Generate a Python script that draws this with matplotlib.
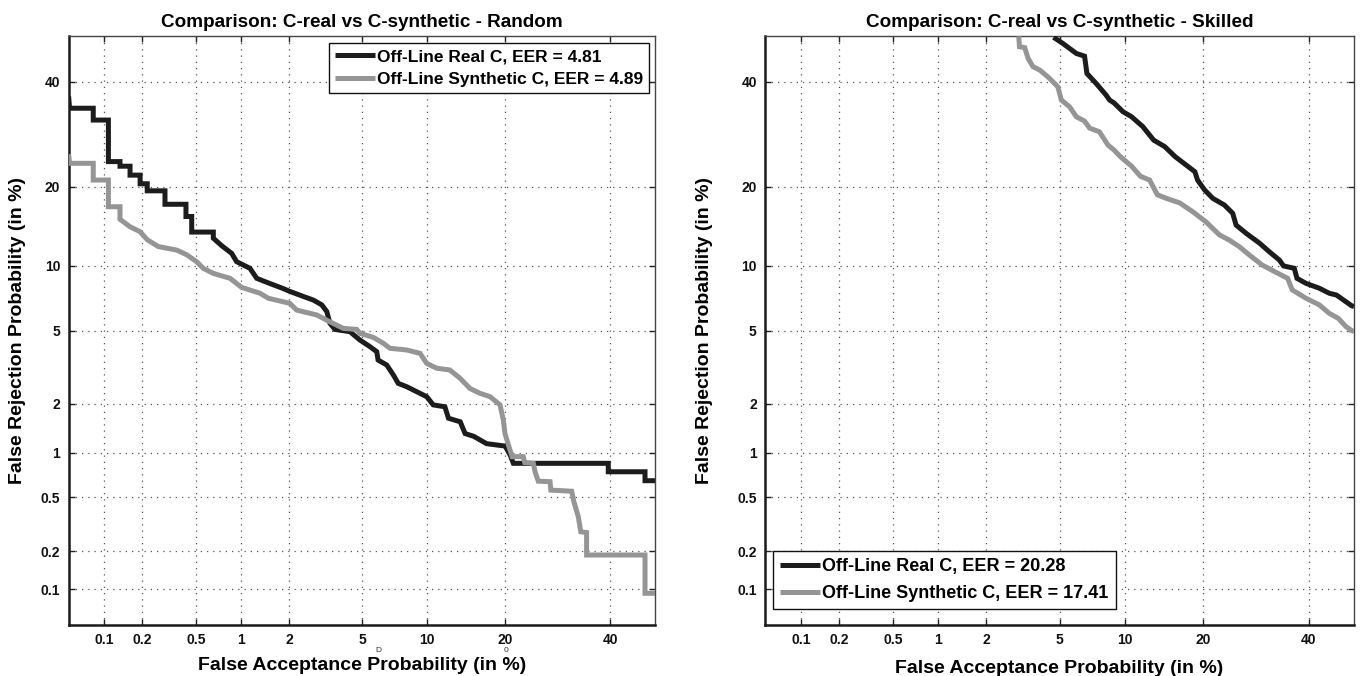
import math
import numpy as np
import matplotlib
matplotlib.use("Agg")
import matplotlib.pyplot as plt
from matplotlib import font_manager
from matplotlib.lines import Line2D

# ---------------- data (values in %) ----------------
rand_real_fa = [0.05, 0.051, 0.081, 0.081, 0.108, 0.108, 0.134, 0.134, 0.161, 0.161, 0.193, 0.193,
                0.219, 0.219, 0.298, 0.298, 0.424, 0.424, 0.466, 0.466, 0.659, 0.659, 0.751, 0.875,
                0.944, 1.15, 1.27, 1.53, 1.83, 2.02, 2.42, 2.76, 3.07, 3.27, 3.40, 3.62, 4.34, 4.88,
                5.48, 5.91, 6.0, 6.6, 7.09, 7.47, 8.16, 9.04, 9.99, 10.65, 11.9, 12.3, 13.7, 14.3,
                15.4, 17.2, 20.0, 20.8, 21.3, 39.6, 39.6, 47.7, 47.7, 50.0]
rand_real_fr = [36.9, 34.4, 34.4, 32.0, 32.0, 24.2, 24.2, 23.4, 23.4, 21.9, 21.9, 20.5,
                20.5, 19.4, 19.4, 17.4, 17.4, 15.7, 15.7, 13.7, 13.7, 12.96, 12.1, 11.26,
                10.39, 9.74, 8.81, 8.36, 7.95, 7.7, 7.30, 7.02, 6.67, 6.2, 5.44, 5.07, 4.94, 4.48,
                4.14, 3.90, 3.52, 3.31, 2.92, 2.62, 2.51, 2.35, 2.20, 1.97, 1.92, 1.64, 1.56, 1.32,
                1.27, 1.14, 1.10, 0.96, 0.85, 0.85, 0.747, 0.747, 0.65, 0.65]

rand_syn_fa = [0.05, 0.051, 0.081, 0.081, 0.108, 0.108, 0.134, 0.134, 0.161, 0.193, 0.219, 0.266,
               0.364, 0.43, 0.505, 0.562, 0.659, 0.854, 1.017, 1.331, 1.50, 2.02, 2.215, 2.88,
               3.40, 4.01, 4.70, 4.88, 5.69, 6.36, 6.84, 8.16, 9.35, 9.99, 11.0, 12.45, 13.67,
               14.94, 16.28, 17.7, 19.19, 19.7, 19.96, 20.5, 21.1, 22.95, 23.2, 24.7, 25.0, 25.58,
               27.74, 27.9, 31.96, 32.4, 33.29, 33.8, 35.0, 35.0, 47.7, 47.7, 50.0]
rand_syn_fr = [25.5, 23.9, 23.9, 21.1, 21.1, 17.05, 17.05, 15.33, 14.36, 13.74, 12.78, 12.0,
               11.61, 11.1, 10.39, 9.74, 9.26, 8.81, 8.03, 7.55, 7.16, 6.78, 6.30, 5.97,
               5.53, 5.13, 5.07, 4.85, 4.62, 4.31, 4.06, 3.98, 3.82, 3.38, 3.18, 3.11, 2.80,
               2.45, 2.30, 2.20, 1.97, 1.60, 1.32, 1.12, 0.94, 0.94, 0.86, 0.85, 0.747, 0.645,
               0.64, 0.56, 0.55, 0.464, 0.363, 0.281, 0.277, 0.187, 0.187, 0.0925, 0.0925]

skill_real_fa = [4.66, 5.2, 6.04, 6.61, 6.78, 7.49, 8.3, 8.6, 9.0, 9.83, 10.7, 11.9, 13.15, 14.5,
                 15.9, 17.1, 18.7, 19.1, 20.2, 21.5, 23.45, 24.9, 25.5, 27.33, 29.85, 31.81,
                 33.83, 34.7, 36.94, 37.5, 39.43, 42.31, 44.5, 46.1, 48.2, 49.5, 50.0]
skill_real_fr = [49.8, 48.4, 46.2, 45.6, 41.8, 39.6, 37.15, 36.1, 35.5, 33.7, 32.66, 30.7, 28.1, 26.9,
                 25.05, 23.89, 22.46, 21.1, 19.52, 18.27, 17.29, 16.13, 14.58, 13.55, 12.4, 11.43,
                 10.56, 9.97, 9.74, 8.81, 8.37, 7.96, 7.55, 7.41, 6.9, 6.6, 6.55]

skill_syn_fa = [3.05, 3.08, 3.29, 3.43, 3.64, 3.97, 4.45, 4.90, 5.10, 5.6, 6.04, 6.61, 6.98, 7.74,
                8.46, 9.0, 9.6, 10.7, 11.65, 12.67, 13.6, 14.7, 16.5, 18.38, 20.4, 22.6, 24.3,
                26.1, 27.9, 30.4, 32.9, 35.54, 36.5, 39.43, 42.31, 44.5, 46.5, 48.2, 49.5, 50.0]
skill_syn_fr = [50.0, 47.7, 47.5, 45.1, 43.3, 42.5, 40.7, 38.9, 36.1, 34.7, 32.66, 31.8, 30.4, 29.7,
                27.18, 26.26, 25.05, 23.4, 21.7, 21.1, 18.8, 18.27, 17.6, 16.35, 15.0, 13.36, 12.74,
                11.98, 11.1, 10.06, 9.42, 8.81, 7.82, 7.16, 6.67, 6.08, 5.75, 5.24, 5.0, 4.95]

tick_vals = [0.1, 0.2, 0.5, 1, 2, 5, 10, 20, 40]
tick_labels = ['0.1', '0.2', '0.5', '1', '2', '5', '10', '20', '40']
axis_lim = (0.05, 50)

titles = ['Comparison: C-real vs C-synthetic - Random', 'Comparison: C-real vs C-synthetic - Skilled']
legend_random = ['Off-Line Real C, EER = 4.81', 'Off-Line Synthetic C, EER = 4.89']
legend_skilled = ['Off-Line Real C, EER = 20.28', 'Off-Line Synthetic C, EER = 17.41']
xlabel = 'False Acceptance Probability (in %)'
ylabel = 'False Rejection Probability (in %)'

# ---------------- probit scale helpers ----------------
_a = [-3.969683028665376e+01, 2.209460984245205e+02, -2.759285104469687e+02,
      1.383577518672690e+02, -3.066479806614716e+01, 2.506628277459239e+00]
_b = [-5.447609879822406e+01, 1.615858368580409e+02, -1.556989798598866e+02,
      6.680131188771972e+01, -1.328068155288572e+01]
_c = [-7.784894002430293e-03, -3.223964580411365e-01, -2.400758277161838e+00,
      -2.549732539343734e+00, 4.374664141464968e+00, 2.938163982698783e+00]
_d = [7.784695709041462e-03, 3.224671290700398e-01, 2.445134137142996e+00,
      3.754408661907416e+00]


def _ppf_scalar(p):
    p = min(max(p, 1e-12), 1 - 1e-12)
    plow = 0.02425
    if p < plow:
        q = math.sqrt(-2 * math.log(p))
        return (((((_c[0]*q + _c[1])*q + _c[2])*q + _c[3])*q + _c[4])*q + _c[5]) / \
               ((((_d[0]*q + _d[1])*q + _d[2])*q + _d[3])*q + 1)
    if p > 1 - plow:
        q = math.sqrt(-2 * math.log(1 - p))
        return -(((((_c[0]*q + _c[1])*q + _c[2])*q + _c[3])*q + _c[4])*q + _c[5]) / \
               ((((_d[0]*q + _d[1])*q + _d[2])*q + _d[3])*q + 1)
    q = p - 0.5
    r = q * q
    return (((((_a[0]*r + _a[1])*r + _a[2])*r + _a[3])*r + _a[4])*r + _a[5]) * q / \
           (((((_b[0]*r + _b[1])*r + _b[2])*r + _b[3])*r + _b[4])*r + 1)


def probit_fwd(pct):
    arr = np.asarray(pct, dtype=float)
    flat = np.array([_ppf_scalar(v / 100.0) for v in arr.ravel()])
    return flat.reshape(arr.shape)


def probit_inv(z):
    arr = np.asarray(z, dtype=float)
    flat = np.array([50.0 * (1.0 + math.erf(v / math.sqrt(2.0))) for v in arr.ravel()])
    return flat.reshape(arr.shape)


# ---------------- fonts ----------------
avail = {f.name for f in font_manager.fontManager.ttflist}
fam = ['Liberation Sans Narrow'] if 'Liberation Sans Narrow' in avail else ['Liberation Sans']
plt.rcParams['font.family'] = fam + ['DejaVu Sans']
plt.rcParams['font.weight'] = 'bold'

W, H = 1363, 676
fig = plt.figure(figsize=(W / 100, H / 100), dpi=100)

black = '#1c1c1c'
grey = '#959595'
lw = 3.6


def setup(ax):
    ax.set_xscale('function', functions=(probit_fwd, probit_inv))
    ax.set_yscale('function', functions=(probit_fwd, probit_inv))
    ax.set_xlim(*axis_lim)
    ax.set_ylim(*axis_lim)
    ax.set_xticks(tick_vals)
    ax.set_xticklabels(tick_labels)
    ax.set_yticks(tick_vals)
    ax.set_yticklabels(tick_labels)
    ax.minorticks_off()
    ax.tick_params(direction='in', length=4, width=1, top=True, right=True,
                   labelsize=10, pad=6, colors='#222222', labelcolor='#111111')
    for lab in ax.get_xticklabels() + ax.get_yticklabels():
        lab.set_fontweight('bold')
    ax.grid(True, linestyle=(0, (1, 4)), linewidth=0.9, color='#555555')
    for s in ['left', 'bottom']:
        ax.spines[s].set_linewidth(1.8)
        ax.spines[s].set_color('#1a1a1a')
    for s in ['top', 'right']:
        ax.spines[s].set_linewidth(1.0)
        ax.spines[s].set_color('#444444')


h = [Line2D([], [], color=black, lw=lw, solid_capstyle='butt'),
     Line2D([], [], color=grey, lw=lw, solid_capstyle='butt')]

# left axes
ax1 = fig.add_axes([68.6 / W, 1 - 625 / H, (655.3 - 68.6) / W, (625 - 36.4) / H])
setup(ax1)
ax1.plot(rand_real_fa, rand_real_fr, color=black, lw=lw, solid_joinstyle='miter', solid_capstyle='butt', zorder=3)
ax1.plot(rand_syn_fa, rand_syn_fr, color=grey, lw=lw, solid_joinstyle='miter', solid_capstyle='butt', zorder=4)
ax1.set_title(titles[0], fontsize=13.6, fontweight='bold', pad=7)
ax1.set_xlabel(xlabel, fontsize=14, fontweight='bold')
ax1.set_ylabel(ylabel, fontsize=14, fontweight='bold')
ax1.xaxis.set_label_coords(0.5, -0.055)
ax1.yaxis.set_label_coords(-0.0726, 0.5)
leg1 = ax1.legend(h, legend_random, loc='upper right', bbox_to_anchor=(0.9896, 0.9883),
                  borderaxespad=0, fancybox=False, framealpha=1, edgecolor='#111111',
                  prop={'size': 12.5, 'weight': 'bold'}, handlelength=2.3, handletextpad=0.1,
                  labelspacing=0.42, borderpad=0.35)
leg1.get_frame().set_linewidth(1.0)

# right axes
ax2 = fig.add_axes([765.1 / W, 1 - 625 / H, (1354.0 - 765.1) / W, (625 - 36.4) / H])
setup(ax2)
ax2.plot(skill_real_fa, skill_real_fr, color=black, lw=lw, solid_joinstyle='miter', solid_capstyle='butt', zorder=3)
ax2.plot(skill_syn_fa, skill_syn_fr, color=grey, lw=lw, solid_joinstyle='miter', solid_capstyle='butt', zorder=4)
ax2.set_title(titles[1], fontsize=13.6, fontweight='bold', pad=7)
ax2.set_xlabel(xlabel, fontsize=14, fontweight='bold')
ax2.set_ylabel(ylabel, fontsize=14, fontweight='bold')
ax2.xaxis.set_label_coords(0.5, -0.06)
ax2.yaxis.set_label_coords(-0.0885, 0.5)
leg2 = ax2.legend(h, legend_skilled, loc='lower left', bbox_to_anchor=(0.0131, 0.0267),
                  borderaxespad=0, fancybox=False, framealpha=1, edgecolor='#111111',
                  prop={'size': 13, 'weight': 'bold'}, handlelength=2.2, handletextpad=0.15,
                  labelspacing=0.55, borderpad=0.4)
leg2.get_frame().set_linewidth(1.0)

# small stray marks in the reference's x label
fig.text(378 / W, 1 - 651 / H, 'D', fontsize=6, color='#333333', ha='center', va='center', fontweight='normal')
fig.text(506 / W, 1 - 651 / H, '0', fontsize=6, color='#333333', ha='center', va='center', fontweight='normal')

fig.savefig('out.png', dpi=100)
